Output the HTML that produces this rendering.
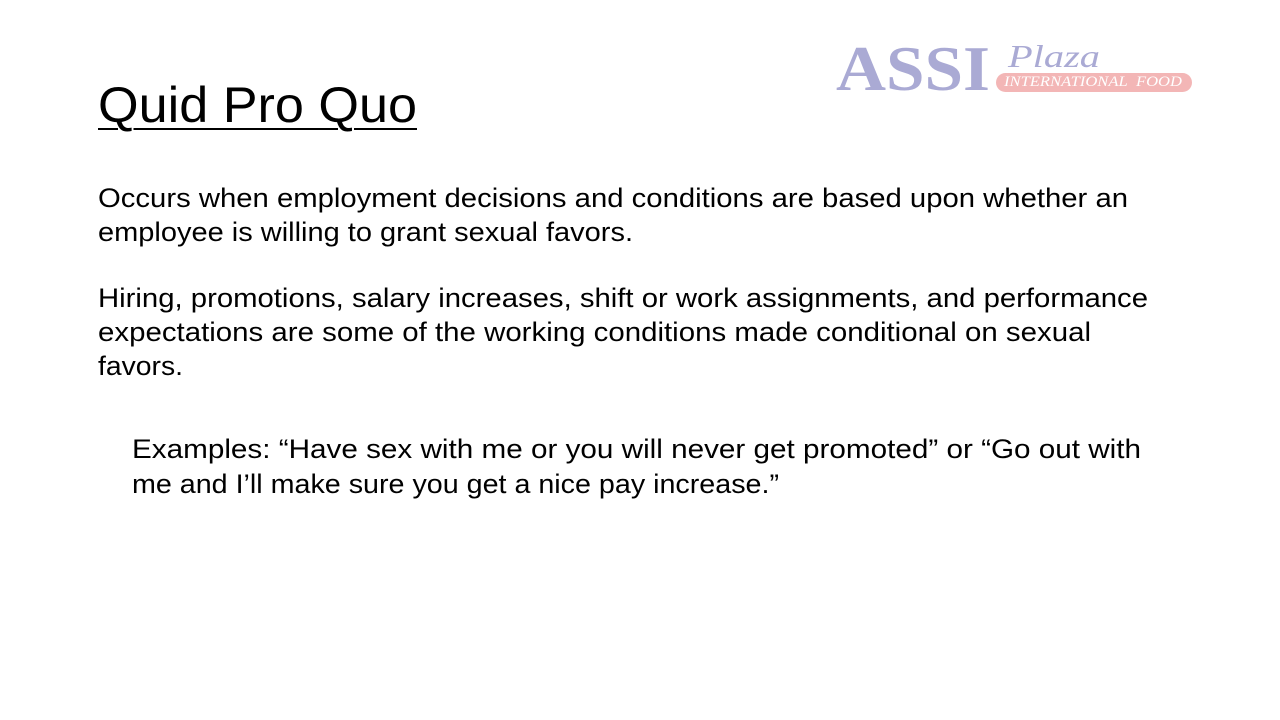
<!DOCTYPE html>
<html><head><meta charset="utf-8">
<style>
html,body{margin:0;padding:0;background:#fff;}
#slide{position:relative;width:1280px;height:720px;overflow:hidden;background:#fff;font-family:"Liberation Sans",sans-serif;color:#000;}
.ln{position:absolute;white-space:nowrap;transform-origin:0 50%;line-height:1;}
.body{font-size:27px;}
</style></head>
<body>
<div id="slide">
  <div>
    <div class="ln" data-w="154" style="left:836px;top:37px;font-family:'Liberation Serif',serif;font-weight:bold;font-size:64px;color:#aaaad4;">ASSI</div>
    <div class="ln" data-w="92" style="left:1008px;top:40px;font-family:'Liberation Serif',serif;font-style:italic;font-size:32px;color:#aaaad4;">Plaza</div>
    <div style="position:absolute;left:996px;top:73px;width:196px;height:19px;border-radius:10px;background:#f3b6b6;"></div>
    <div class="ln" data-w="178" style="left:1004px;top:75px;font-family:'Liberation Serif',serif;font-style:italic;font-size:15px;color:#fff;">INTERNATIONAL&nbsp;&nbsp;FOOD</div>
  </div>
  <div class="ln" data-w="319" style="left:98px;top:80px;font-size:50px;text-decoration:underline;text-decoration-thickness:2px;text-underline-offset:6px;">Quid Pro Quo</div>
  <div class="ln body" data-w="1030" style="left:98px;top:185px;">Occurs when employment decisions and conditions are based upon whether an</div>
  <div class="ln body" data-w="535" style="left:98px;top:219px;">employee is willing to grant sexual favors.</div>
  <div class="ln body" data-w="1050" style="left:98px;top:285px;">Hiring, promotions, salary increases, shift or work assignments, and performance</div>
  <div class="ln body" data-w="993" style="left:98px;top:319px;">expectations are some of the working conditions made conditional on sexual</div>
  <div class="ln body" data-w="85" style="left:98px;top:353px;">favors.</div>
  <div class="ln body" data-w="1009" style="left:132px;top:436px;">Examples: “Have sex with me or you will never get promoted” or “Go out with</div>
  <div class="ln body" data-w="647" style="left:132px;top:471px;">me and I’ll make sure you get a nice pay increase.”</div>
</div>
<script>
document.querySelectorAll('.ln[data-w]').forEach(function(el){
  var w=el.getBoundingClientRect().width;
  var t=parseFloat(el.getAttribute('data-w'));
  if(w>0) el.style.transform='scaleX('+(t/w)+')';
});
</script>
</body></html>
